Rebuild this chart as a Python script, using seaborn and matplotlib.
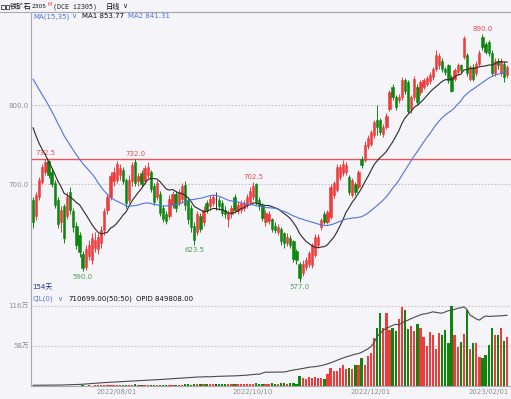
# 铁矿石2305 日线 (ローソク足 + MA + 出来高/建玉)
import numpy as np
import pandas as pd
import seaborn as sns
from matplotlib import pyplot as plt
from matplotlib.patches import Rectangle
from matplotlib.lines import Line2D

# -----------------------------------------------------------------
# データ
# -----------------------------------------------------------------
open_ = [
    680, 660, 684, 703, 716, 729, 716, 702, 680, 652,
    672, 660, 690, 666, 648, 636, 612, 596, 610, 604,
    620, 618, 626, 642, 668, 684, 704, 706, 712, 718,
    705, 680, 704, 728, 704, 714, 704, 712, 716, 698,
    684, 688, 670, 662, 660, 674, 688, 676, 682, 699,
    680, 670, 648, 640, 660, 652, 676, 672, 676, 681,
    680, 676, 668, 656, 662, 684, 666, 668, 670, 674,
    678, 684, 700, 680, 674, 652, 654, 656, 648, 640,
    644, 638, 626, 632, 628, 616, 600, 588, 596, 600,
    598, 611, 623, 646, 663, 653, 659, 686, 693, 709,
    714, 716, 709, 686, 700, 697, 732, 730, 748, 751,
    762, 781, 781, 764, 772, 795, 823, 810, 806, 810,
    831, 829, 795, 810, 823, 816, 823, 827, 830, 835,
    846, 850, 856, 846, 850, 835, 833, 842, 850, 861,
    863, 833, 848, 840, 852, 886, 877, 879, 866, 840,
    856, 840, 852, 838,
]
close = [
    653, 686, 706, 722, 728, 712, 700, 674, 650, 668,
    632, 684, 668, 646, 624, 614, 594, 618, 624, 632,
    630, 634, 642, 666, 684, 710, 716, 726, 720, 704,
    676, 706, 724, 702, 710, 700, 720, 722, 694, 678,
    702, 664, 656, 654, 682, 688, 670, 690, 698, 674,
    656, 646, 630, 662, 644, 668, 668, 682, 684, 681,
    672, 664, 662, 664, 670, 668, 674, 676, 676, 684,
    692, 698, 678, 672, 658, 664, 662, 644, 642, 646,
    628, 626, 634, 624, 606, 604, 582, 600, 604, 613,
    623, 634, 634, 655, 653, 665, 697, 701, 722, 722,
    726, 724, 690, 705, 690, 715, 724, 750, 758, 766,
    778, 772, 766, 772, 786, 816, 810, 797, 810, 831,
    818, 793, 810, 833, 804, 829, 831, 834, 838, 845,
    863, 862, 846, 842, 831, 818, 844, 850, 844, 884,
    840, 848, 833, 852, 866, 873, 867, 865, 840, 856,
    850, 856, 835, 848,
]
high = [
    684, 690, 709, 725, 732.5, 731, 720, 705, 684, 672,
    675, 690, 696, 670, 652, 640, 616, 624, 630, 638,
    640, 638, 648, 670, 688, 716, 722, 729, 726, 722,
    708, 712, 728, 732, 714, 718, 724, 728, 718, 702,
    706, 692, 674, 666, 686, 692, 692, 694, 702, 704,
    684, 674, 652, 666, 664, 672, 680, 686, 688, 690,
    684, 680, 672, 668, 674, 688, 678, 680, 680, 688,
    696, 702.5, 701, 684, 676, 668, 666, 658, 652, 650,
    646, 640, 638, 636, 630, 618, 602, 604, 608, 616,
    626, 637, 637, 658, 666, 668, 700, 704, 725, 726,
    730, 728, 712, 708, 703, 718, 736, 754, 762, 769,
    781, 800, 784, 776, 790, 819, 826, 812, 814, 835,
    834, 832, 813, 836, 826, 832, 834, 837, 841, 848,
    869, 866, 859, 848, 852, 838, 847, 853, 852, 887,
    866, 851, 852, 855, 869, 890, 880, 882, 869, 859,
    859, 859, 855, 851,
]
low = [
    645, 655, 680, 700, 712, 708, 696, 670, 645, 640,
    626, 656, 662, 640, 618, 608, 590, 592, 604, 600,
    614, 612, 620, 636, 662, 680, 698, 702, 706, 700,
    670, 676, 698, 698, 698, 696, 700, 708, 690, 674,
    680, 660, 652, 650, 656, 670, 665, 672, 678, 668,
    650, 640, 623.5, 636, 640, 648, 664, 668, 672, 667,
    668, 660, 658, 646, 658, 664, 662, 664, 666, 670,
    674, 680, 674, 668, 654, 648, 650, 640, 638, 636,
    624, 620, 622, 620, 602, 600, 577, 584, 592, 596,
    594, 608, 620, 642, 650, 650, 656, 683, 690, 706,
    710, 712, 686, 684, 686, 694, 720, 728, 745, 748,
    758, 762, 762, 760, 770, 792, 806, 794, 802, 806,
    814, 790, 790, 806, 800, 812, 820, 824, 827, 832,
    843, 846, 842, 838, 828, 816, 830, 838, 840, 858,
    836, 830, 830, 836, 849, 870, 864, 862, 836, 837,
    846, 836, 829, 834,
]
# 表示範囲より前の終値 (移動平均の計算用、推定)
pre_close = [
    925, 940, 950, 945, 955, 948, 940, 930, 925, 915, 905,
    880, 860, 830, 800, 780, 770, 775, 790, 810,
    850, 845, 835, 830, 835,
    810, 800, 785, 770, 760,
    720, 705, 690, 685,
]
# 出来高 (万)
volume = [
    0.6, 0.4, 0.5, 0.3, 0.6, 0.5, 0.4, 0.7, 0.5, 0.6,
    0.5, 0.6, 0.4, 0.5, 0.6, 0.7, 0.9, 0.6, 0.8, 0.7,
    0.9, 1.0, 0.8, 1.2, 1.4, 1.5, 1.8, 1.6, 2.0, 1.8,
    1.5, 1.9, 1.7, 2.2, 1.6, 1.4, 1.8, 1.5, 1.3, 1.6,
    1.5, 1.8, 1.4, 1.6, 1.7, 1.5, 1.9, 2.0, 1.8, 2.2,
    2.4, 2.0, 3.2, 3.0, 2.6, 2.8, 3.4, 3.1, 2.6, 2.4,
    2.8, 3.6, 3.2, 2.9, 3.0, 2.7, 3.3, 2.9, 3.1, 2.8,
    3.0, 3.2, 4.2, 3.0, 3.5, 3.2, 3.0, 4.0, 3.6, 3.2,
    3.8, 4.8, 3.5, 4.2, 5.0, 3.0, 14.8, 12.0, 10.5, 12.6,
    11.5, 13.4, 12.2, 11.0, 10.6, 16.8, 25.4, 22.0, 21.5, 26.0,
    30.0, 24.0, 26.0, 24.0, 30.0, 30.0, 40.0, 30.5, 43.6, 47.0,
    68.6, 83.0, 104.6, 83.0, 104.6, 80.6, 83.0, 79.0, 96.4, 114.0,
    109.0, 82.0, 86.7, 79.0, 89.6, 83.0, 70.0, 57.6, 78.0, 73.4,
    53.3, 75.8, 73.0, 80.6, 62.0, 115.6, 73.0, 56.6, 63.8, 75.0,
    109.0, 54.0, 62.0, 62.0, 42.0, 40.0, 44.0, 59.0, 83.0, 73.4,
    73.4, 83.0, 65.0, 71.07,
]
# 建玉 OPID (万)
opid = [
    0.9, 0.9, 1.0, 1.0, 1.0, 1.1, 1.1, 1.1, 1.2, 1.2,
    1.3, 1.3, 1.4, 1.5, 1.7, 1.9, 2.1, 2.4, 2.7, 3.0,
    3.4, 3.7, 3.9, 4.1, 4.3, 4.5, 4.7, 4.9, 5.1, 5.3,
    5.5, 5.6, 5.8, 6.0, 6.2, 6.4, 6.6, 6.8, 7.0, 7.3,
    7.5, 7.8, 8.0, 8.3, 8.5, 8.8, 9.0, 9.3, 9.5, 9.8,
    10.0, 10.2, 10.5, 10.8, 10.8, 11.0, 11.2, 11.0, 11.3, 11.5,
    11.6, 11.8, 11.7, 11.9, 12.0, 12.0, 12.3, 12.6, 12.8, 13.0,
    13.4, 13.9, 14.2, 14.2, 15.5, 16.7, 16.5, 16.7, 16.6, 16.8,
    16.7, 16.8, 17.5, 18.5, 19.2, 19.8, 20.4, 21.0, 21.8, 22.5,
    23.0, 23.2, 23.8, 24.5, 25.5, 26.5, 27.8, 29.2, 30.8, 32.2,
    33.5, 35.0, 36.0, 37.2, 38.3, 39.0, 40.5, 42.5, 44.5, 47.2,
    52.0, 59.1, 63.5, 67.0, 69.6, 71.0, 72.8, 74.1, 73.5, 75.5,
    77.8, 79.1, 81.0, 82.5, 84.1, 85.5, 86.5, 87.0, 88.0, 89.1,
    88.5, 87.8, 87.5, 89.0, 90.5, 91.0, 92.0, 93.3, 94.0, 95.0,
    92.0, 85.0, 83.0, 80.5, 79.1, 82.0, 84.1, 83.5, 83.8, 84.0,
    84.1, 84.3, 84.6, 84.98,
]
peak_idx = [4, 33, 71, 145]
trough_idx = [16, 52, 86]
date_ticks = ["2022-08-01", "2022-10-10", "2022-12-01", "2023-02-01"]
holidays = ["2022-09-12", "2022-10-03", "2022-10-04", "2022-10-05", "2022-10-06",
            "2022-10-07", "2023-01-02", "2023-01-23", "2023-01-24", "2023-01-25",
            "2023-01-26", "2023-01-27"]

# -----------------------------------------------------------------
# 設定
# -----------------------------------------------------------------
sns.set_theme(style="white")
plt.rcParams["font.family"] = ["DejaVu Sans", "Noto Sans CJK SC"]
plt.rcParams["axes.unicode_minus"] = False

BG = "#f4f4f9"
RED = "#ee3b3b"
GREEN = "#0c870c"
BLUE = "#4f74e0"
GRID = "#c4c4c8"
SPINE = "#a8a8ae"
TICK = "#909090"
FS = 5

days = pd.bdate_range("2022-06-23", "2023-02-09")
days = days[~days.isin(pd.to_datetime(holidays))]
x = np.arange(len(close))
o, c, h, l = map(np.array, (open_, close, high, low))
colors = np.where(c > o, RED, np.where(c < o, GREEN, "#333333"))

full = pd.Series(pre_close + close, dtype=float)
df = pd.DataFrame({
    "x": x,
    "ma1": full.rolling(15).mean().to_numpy()[-len(close):],
    "ma2": full.rolling(35).mean().to_numpy()[-len(close):],
    "opid": opid,
})

W, H = 511, 399
fig = plt.figure(figsize=(W / 100, H / 100), dpi=100, facecolor=BG)


def fx(px):
    return px / W


def fy(py):
    return 1 - py / H


ax = fig.add_axes([fx(31), fy(291), fx(511) - fx(31), fy(12) - fy(291)], facecolor=BG)
axv = fig.add_axes([fx(31), fy(386), fx(511) - fx(31), fy(291) - fy(386)],
                   facecolor=BG, sharex=ax)

# ローソク足
ax.vlines(x, l, h, colors=colors, lw=0.7, zorder=3)
ax.bar(x, c - o, bottom=o, width=0.72, color=colors, edgecolor=colors, lw=0.4, zorder=4)

# 移動平均
sns.lineplot(data=df, x="x", y="ma1", ax=ax, color="#2a2a2a", lw=0.8, zorder=5)
sns.lineplot(data=df, x="x", y="ma2", ax=ax, color=BLUE, lw=0.8, zorder=5)

ax.axhline(h[peak_idx[0]], color="#e85656", lw=1.0, zorder=2)

for i in peak_idx:
    ax.annotate(f"{h[i]:.1f}", (i, h[i]), xytext=(0, 1.5), textcoords="offset points",
                ha="center", va="bottom", color="#e84c4c", fontsize=FS)
for i in trough_idx:
    ax.annotate(f"{l[i]:.1f}", (i, l[i]), xytext=(0, -1.5), textcoords="offset points",
                ha="center", va="top", color="#4f9a4f", fontsize=FS)

ax.set_xlim(-0.65, 154.2)
ax.set_ylim(565.4, 917.3)
ax.set_yticks([700, 800])
ax.set_yticklabels(["700.0", "800.0"])
ax.yaxis.grid(True, ls=(0, (1.5, 1.5)), color=GRID, lw=0.8)
ax.tick_params(axis="y", length=0, pad=1.5, labelsize=FS, labelcolor=TICK)
ax.tick_params(axis="x", length=0, labelbottom=False)
ax.set_xlabel("")
ax.set_ylabel("")
ax.text(0.002, 0.003, "154天", transform=ax.transAxes, color="#1f2f8f",
        fontsize=FS, va="bottom", ha="left")

# 出来高
axv.bar(x, volume, width=0.75, color=colors, lw=0, zorder=3)
axv.set_ylim(0, 137)
axv.set_yticks([58, 116])
axv.set_yticklabels(["58万", "116万"])
axv.yaxis.grid(True, ls=(0, (1.5, 1.5)), color=GRID, lw=0.8)
tick_pos = [days.get_loc(pd.Timestamp(d)) for d in date_ticks]
axv.set_xticks(tick_pos)
axv.set_xticklabels([pd.Timestamp(d).strftime("%Y/%m/%d") for d in date_ticks])
axv.tick_params(axis="both", length=0, labelsize=FS, labelcolor=TICK)
axv.tick_params(axis="x", pad=2.5)
axv.tick_params(axis="y", pad=1.5)

axo = axv.twinx()
sns.lineplot(data=df, x="x", y="opid", ax=axo, color="#4a4a4a", lw=0.8, zorder=5)
axo.set_ylim(0, 114.1)
axo.set_yticks([])
axo.set_ylabel("")
for s in axo.spines.values():
    s.set_visible(False)

for a in (ax, axv):
    for s in a.spines.values():
        s.set_color(SPINE)
        s.set_linewidth(0.8)
    a.spines["right"].set_visible(False)
axv.spines["top"].set_visible(False)

# ヘッダー
fig.add_artist(Line2D([0, 1], [fy(12), fy(12)], color=SPINE, lw=0.8))
fig.patches.append(Rectangle((fx(1), fy(8.5)), fx(3.5), fy(4.5) - fy(8.5), fill=False,
                             ec="#333344", lw=0.6, transform=fig.transFigure))
fig.patches.append(Rectangle((fx(5.5), fy(8.5)), fx(3.5), fy(4.5) - fy(8.5), fill=False,
                             ec="#333344", lw=0.6, transform=fig.transFigure))

fig.text(fx(10), fy(6.5), "铁矿石", fontsize=5.2, color="#111111", va="center")
fig.text(fx(32), fy(6.8), "2305", fontsize=4.2, color="#111111", va="center")
fig.text(fx(47), fy(4.8), "M", fontsize=3.4, color=RED, va="center")
fig.text(fx(53), fy(6.5), "(DCE i2305)", fontsize=4.8, color="#222222", va="center",
         family="DejaVu Sans Mono")
fig.text(fx(106), fy(6.5), "日线", fontsize=5.2, color="#111111", va="center")
fig.text(fx(122), fy(6.5), "∨", fontsize=FS, color="#222222", va="center")

fig.text(fx(33), fy(16.5), "MA(15,35)", fontsize=FS, color=BLUE, va="center")
fig.text(fx(71), fy(16.5), "∨", fontsize=FS, color=BLUE, va="center")
fig.text(fx(82), fy(16.5), "MA1 853.77", fontsize=FS, color="#111111", va="center")
fig.text(fx(128), fy(16.5), "MA2 841.31", fontsize=FS, color=BLUE, va="center")

fig.text(fx(33), fy(299), "CJL(0)", fontsize=FS, color=BLUE, va="center")
fig.text(fx(57), fy(299), "∨", fontsize=FS, color=BLUE, va="center")
fig.text(fx(68), fy(299), "710699.00(50:50)", fontsize=FS, color="#111111", va="center")
fig.text(fx(136), fy(299), "OPID 849808.00", fontsize=FS, color="#111111", va="center")

fig.savefig("out.png", dpi=100, facecolor=BG)
